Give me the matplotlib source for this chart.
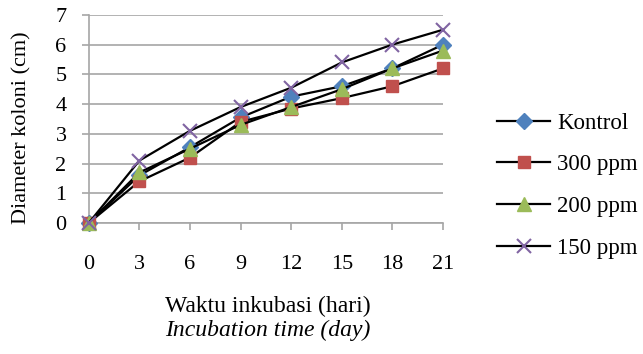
import matplotlib.pyplot as plt

plt.rcParams['font.family'] = ['Liberation Serif', 'DejaVu Serif']

# data
days = [0, 3, 6, 9, 12, 15, 18, 21]
kontrol = [0, 1.6, 2.55, 3.55, 4.25, 4.6, 5.2, 6.0]
ppm300 = [0, 1.4, 2.2, 3.4, 3.85, 4.2, 4.6, 5.2]
ppm200 = [0, 1.7, 2.5, 3.3, 3.9, 4.5, 5.2, 5.8]
ppm150 = [0, 2.1, 3.1, 3.9, 4.55, 5.4, 6.0, 6.5]

series = [
    ('Kontrol', kontrol, 'D', '#4F81BD', 8),
    ('300 ppm', ppm300, 's', '#C0504D', 9),
    ('200 ppm', ppm200, '^', '#9BBB59', 10),
    ('150 ppm', ppm150, 'x', '#8064A2', 10),
]

fs = 16

fig = plt.figure(figsize=(6.43, 3.54), dpi=100)
ax = fig.add_axes([0.138, 0.370, 0.551, 0.588])

for name, vals, mk, col, ms in series:
    kw = dict(markerfacecolor=col, markeredgecolor=col, markersize=ms)
    if mk == 'x':
        kw['markeredgewidth'] = 1.5
    ax.plot(days, vals, color='black', linewidth=1.6, marker=mk,
            label=name, clip_on=False, zorder=3, **kw)

ax.set_xlim(0, 21)
ax.set_ylim(0, 7)
ax.set_xticks(days)
ax.set_yticks(range(0, 8))
ax.yaxis.grid(True, color='#a6a6a6', linewidth=1.2)
ax.set_axisbelow(True)
for s in ['top', 'right']:
    ax.spines[s].set_visible(False)
for s in ['left', 'bottom']:
    ax.spines[s].set_color('#a6a6a6')
    ax.spines[s].set_linewidth(1.2)
ax.tick_params(axis='both', colors='#a6a6a6', length=5, width=1.2,
               labelcolor='black', labelsize=fs)
ax.tick_params(axis='y', pad=11)
ax.tick_params(axis='x', pad=18)

fig.text(0.034, 0.64, 'Diameter koloni (cm)', fontsize=fs, rotation=90,
         ha='center', va='center')
fig.text(0.417, 0.135, 'Waktu inkubasi (hari)', fontsize=17,
         ha='center', va='center')
fig.text(0.417, 0.067, 'Incubation time (day)', fontsize=17,
         ha='center', va='center', style='italic')

ax.legend(loc='center left', bbox_to_anchor=(1.153, 0.18), frameon=False,
          fontsize=16.5, handlelength=2.3, labelspacing=0.9,
          handletextpad=0.3, borderaxespad=0, borderpad=0)

fig.savefig('out.png', dpi=100)
